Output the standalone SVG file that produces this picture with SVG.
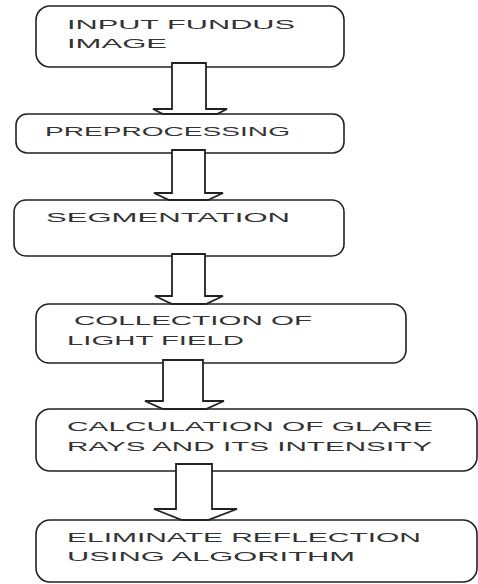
<svg xmlns="http://www.w3.org/2000/svg" width="478" height="584" viewBox="0 0 478 584">
<style>
.box{fill:#fff;stroke:#222;stroke-width:1.6}
.arr{fill:#fff;stroke:#222;stroke-width:1.8;stroke-linejoin:miter}
.t{font-family:"Liberation Sans",Arial,sans-serif;font-size:13px;fill:#333}
</style>
<rect width="478" height="584" fill="#fff"/>
<g id="node-input">
<rect class="box" x="36" y="6" width="308" height="61" rx="14"/>
<text class="t" x="67" y="29" textLength="228" lengthAdjust="spacingAndGlyphs">INPUT FUNDUS</text>
<text class="t" x="67" y="48" textLength="100" lengthAdjust="spacingAndGlyphs">IMAGE</text>
</g>
<g id="node-preprocessing">
<rect class="box" x="16" y="114" width="328" height="39" rx="11"/>
<text class="t" x="45" y="136" textLength="245" lengthAdjust="spacingAndGlyphs">PREPROCESSING</text>
</g>
<g id="node-segmentation">
<rect class="box" x="14" y="200" width="330" height="56" rx="12"/>
<text class="t" x="46" y="222" textLength="244" lengthAdjust="spacingAndGlyphs">SEGMENTATION</text>
</g>
<g id="node-collection">
<rect class="box" x="36" y="304" width="370" height="59" rx="13"/>
<text class="t" x="74" y="325" textLength="238" lengthAdjust="spacingAndGlyphs">COLLECTION OF</text>
<text class="t" x="67" y="345" textLength="177" lengthAdjust="spacingAndGlyphs">LIGHT FIELD</text>
</g>
<g id="node-calculation">
<rect class="box" x="36" y="409" width="441" height="62" rx="14"/>
<text class="t" x="67" y="431" textLength="366" lengthAdjust="spacingAndGlyphs">CALCULATION OF GLARE</text>
<text class="t" x="67" y="451" textLength="365" lengthAdjust="spacingAndGlyphs">RAYS AND ITS INTENSITY</text>
</g>
<g id="node-eliminate">
<rect class="box" x="36" y="520" width="441" height="62" rx="14"/>
<text class="t" x="67" y="542" textLength="354" lengthAdjust="spacingAndGlyphs">ELIMINATE REFLECTION</text>
<text class="t" x="67" y="561" textLength="288" lengthAdjust="spacingAndGlyphs">USING ALGORITHM</text>
</g>
<g id="connectors">
<path class="arr" d="M172,63 H206 V109 H227 L217,114 H163 L153,109 H172 Z"/>
<path class="arr" d="M172,150 H205 V193 H223 L208,200 H169 L154,193 H172 Z"/>
<path class="arr" d="M172,254 H205 V296 H223 L206,304 H172 L155,296 H172 Z"/>
<path class="arr" d="M163,360 H203 V401 H224 L206,409 H163 L145,401 H163 Z"/>
<path class="arr" d="M176,464 H212 V509 H237 L208,520 H182 L154,509 H176 Z"/>
</g>
</svg>
